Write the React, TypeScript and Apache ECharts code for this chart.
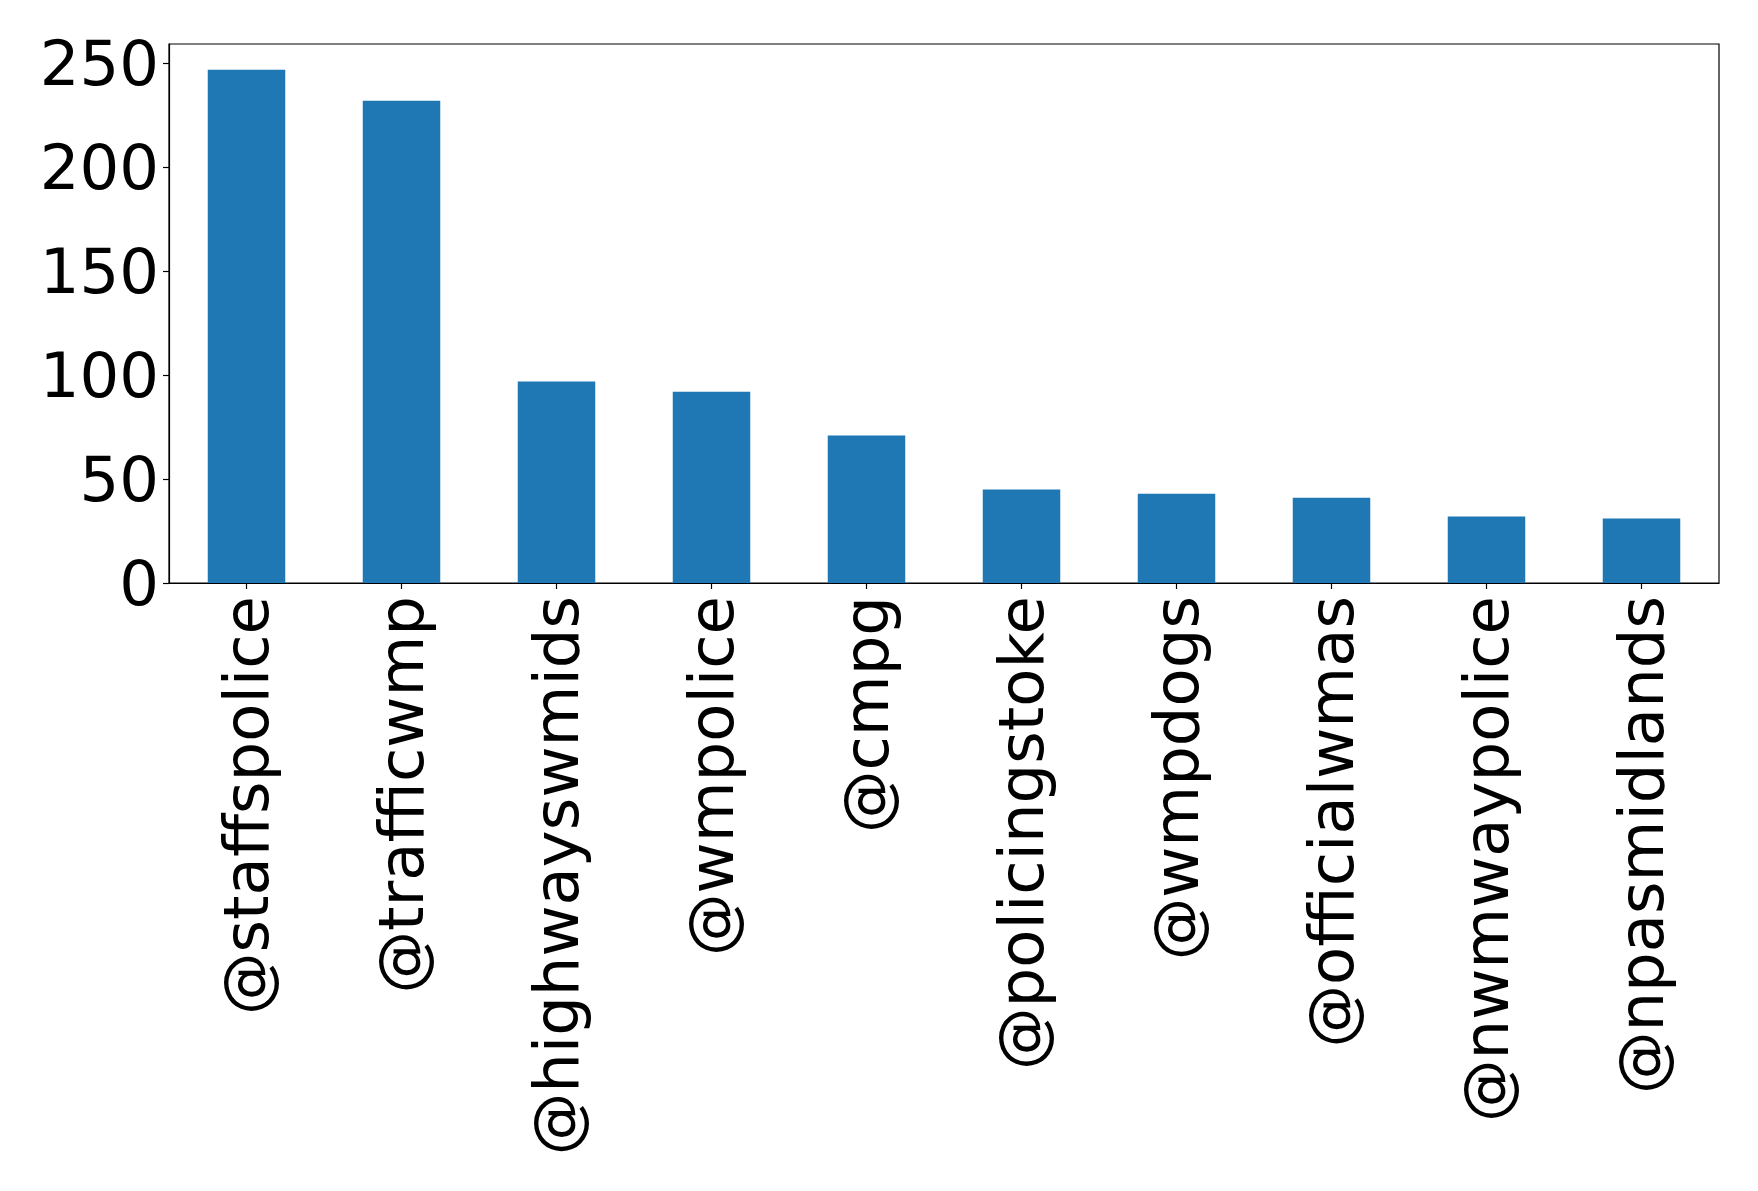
import React, { useEffect, useRef } from "react";
import * as echarts from "echarts";

// Mention counts per account
const accounts = [
  "@staffspolice",
  "@trafficwmp",
  "@highwayswmids",
  "@wmpolice",
  "@cmpg",
  "@policingstoke",
  "@wmpdogs",
  "@officialwmas",
  "@nwmwaypolice",
  "@npasmidlands",
];
const counts = [247, 232, 97, 92, 71, 45, 43, 41, 32, 31];
const yTicks = [0, 50, 100, 150, 200, 250];

const FONT = "DejaVu Sans";
const BAR_COLOR = "#1f77b4";

export default function App() {
  const ref = useRef<HTMLDivElement>(null);

  useEffect(() => {
    if (!ref.current) return;
    const chart = echarts.init(ref.current, undefined, { renderer: "svg" });
    const yMax = Math.max(...counts) * 1.05;
    chart.setOption({
      animation: false,
      backgroundColor: "#ffffff",
      textStyle: { fontFamily: FONT },
      grid: {
        left: 169,
        right: 39,
        top: 44,
        bottom: 608,
        show: true,
        borderColor: "#000000",
        borderWidth: 1.2,
        backgroundColor: "transparent",
      },
      xAxis: {
        type: "category",
        data: accounts,
        boundaryGap: true,
        axisLine: { show: true, lineStyle: { color: "#000000", width: 1.2 } },
        axisTick: {
          show: true,
          alignWithLabel: true,
          length: 6,
          lineStyle: { color: "#000000", width: 1.2 },
        },
        axisLabel: {
          rotate: 90,
          interval: 0,
          margin: 13,
          fontSize: 62.5,
          fontFamily: FONT,
          color: "#000000",
        },
        splitLine: { show: false },
      },
      yAxis: {
        type: "value",
        min: 0,
        max: yMax,
        axisLine: { show: true, lineStyle: { color: "#000000", width: 1.2 } },
        axisTick: {
          show: true,
          length: 6,
          customValues: yTicks,
          lineStyle: { color: "#000000", width: 1.2 },
        },
        axisLabel: {
          customValues: yTicks,
          margin: 10,
          fontSize: 62.5,
          fontFamily: FONT,
          color: "#000000",
        },
        splitLine: { show: false },
      },
      series: [
        {
          type: "bar",
          data: counts,
          barWidth: "50%",
          itemStyle: { color: BAR_COLOR },
        },
      ],
    });
    return () => chart.dispose();
  }, []);

  return (
    <div
      ref={ref}
      style={{ position: "fixed", left: 0, top: 0, width: 1758, height: 1191, background: "#fff" }}
    />
  );
}
